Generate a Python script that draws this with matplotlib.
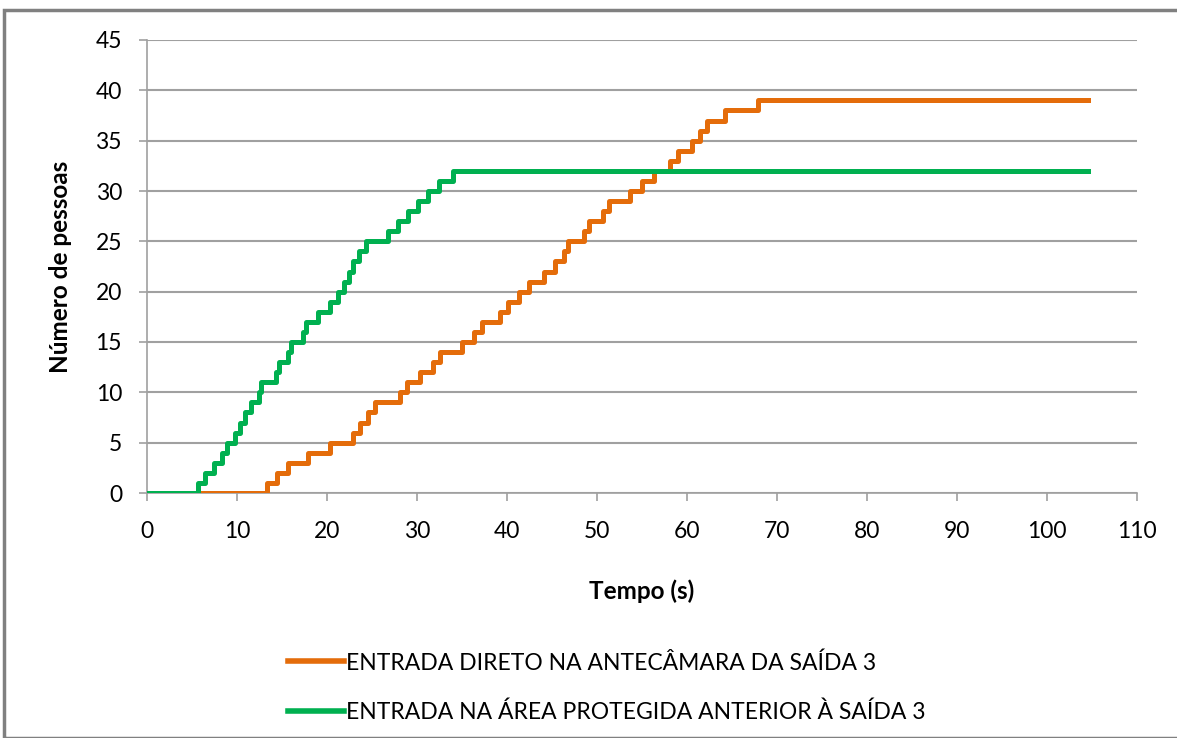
import matplotlib
matplotlib.use("Agg")
import matplotlib.pyplot as plt
from matplotlib.patches import Rectangle

plt.rcParams["font.family"] = ["Lato", "DejaVu Sans"]

# step events: time (s) at which the count reaches the given value
t_direto = [0, 13.3, 14.4, 15.7, 17.9, 20.3, 22.9, 23.7, 24.6, 25.3, 28.1, 28.9,
            30.3, 31.8, 32.6, 35.0, 36.3, 37.2, 39.2, 40.1, 41.3, 42.4, 44.1,
            45.3, 46.3, 46.8, 48.5, 49.1, 50.7, 51.3, 53.7, 55.0, 56.3, 58.1,
            59.0, 60.5, 61.4, 62.2, 64.2, 67.9, 104.5]
n_direto = [0, 1, 2, 3, 4, 5, 6, 7, 8, 9, 10, 11,
            12, 13, 14, 15, 16, 17, 18, 19, 20, 21, 22,
            23, 24, 25, 26, 27, 28, 29, 30, 31, 32, 33,
            34, 35, 36, 37, 38, 39, 39]

t_area = [0, 5.7, 6.4, 7.4, 8.3, 8.9, 9.8, 10.3, 10.9, 11.6, 12.4, 12.7, 14.3,
          14.7, 15.7, 16.0, 17.3, 17.7, 19.0, 20.3, 21.2, 21.9, 22.4, 22.9,
          23.6, 24.3, 26.8, 27.9, 29.0, 30.1, 31.2, 32.4, 34.0, 104.5]
n_area = [0, 1, 2, 3, 4, 5, 6, 7, 8, 9, 10, 11, 12,
          13, 14, 15, 16, 17, 18, 19, 20, 21, 22, 23,
          24, 25, 26, 27, 28, 29, 30, 31, 32, 32]

label_direto = "ENTRADA DIRETO NA ANTECÂMARA DA SAÍDA 3"
label_area = "ENTRADA NA ÁREA PROTEGIDA ANTERIOR À SAÍDA 3"

fig = plt.figure(figsize=(11.77, 7.38), dpi=100)
fig.patches.append(Rectangle((4 / 1177, 0), 1, 1 - 10 / 738, transform=fig.transFigure,
                             fill=False, edgecolor="#808080", linewidth=2.5))

ax = fig.add_axes([147 / 1177, 1 - 493 / 738, 990 / 1177, 453 / 738])
ax.plot(t_direto, n_direto, drawstyle="steps-post", color="#E46C0A",
        linewidth=3.6, label=label_direto, zorder=3)
ax.plot(t_area, n_area, drawstyle="steps-post", color="#00B050",
        linewidth=3.6, label=label_area, zorder=3)

ax.set_xlim(0, 110)
ax.set_ylim(0, 45)
ax.set_xticks(range(0, 111, 10))
ax.set_yticks(range(0, 46, 5))
ax.grid(axis="y", color="#A0A0A0", linewidth=1.5)
ax.set_axisbelow(True)
for side in ["top", "right"]:
    ax.spines[side].set_visible(False)
for side in ["left", "bottom"]:
    ax.spines[side].set_color("#A0A0A0")
    ax.spines[side].set_linewidth(1.2)
ax.tick_params(axis="both", colors="#A0A0A0", length=6, width=1.2,
               labelcolor="black", labelsize=16.5)
ax.tick_params(axis="x", pad=14)
ax.tick_params(axis="y", pad=12)

ax.set_xlabel("Tempo (s)", fontsize=17.5, fontweight="bold", labelpad=27)
ax.set_ylabel("Número de pessoas", fontsize=17.5, fontweight="bold", labelpad=17)

leg = ax.legend(loc="upper left", bbox_to_anchor=(288 / 1177, 1 - 652 / 738),
                bbox_transform=fig.transFigure, frameon=False, fontsize=16.5,
                borderpad=0, borderaxespad=0,
                handlelength=2.45, handletextpad=0.1, labelspacing=1.22)
for line in leg.get_lines():
    line.set_linewidth(4)

fig.savefig("out.png", dpi=100)
